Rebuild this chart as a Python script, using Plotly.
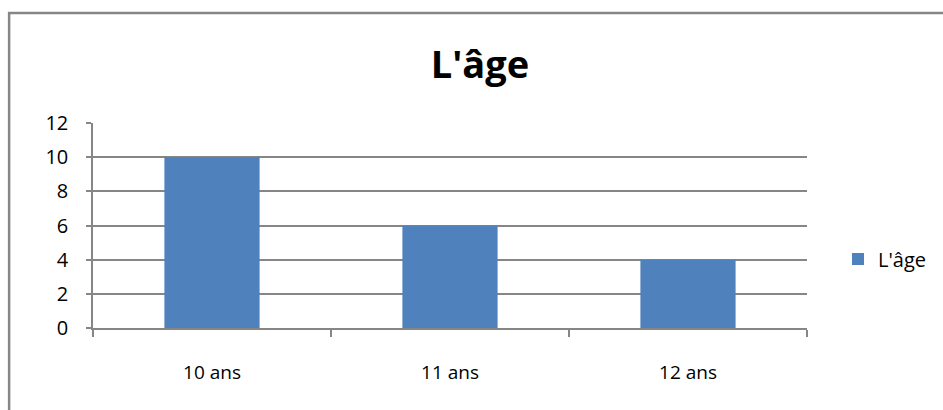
import plotly.graph_objects as go

categories = ["10 ans", "11 ans", "12 ans"]
values = [10, 6, 4]
series_name = "L'âge"
title_text = "L'âge"
y_ticks = [0, 2, 4, 6, 8, 10, 12]

W, H = 943, 410
L, R, T, B = 93, 135, 123, 82
pw, ph = W - L - R, H - T - B

def px_x(px):
    return (px - L) / pw

def px_y(py):
    return (H - B - py) / ph

fig = go.Figure()
fig.add_trace(go.Bar(
    x=categories, y=values, name=series_name,
    marker=dict(color="#4F81BD", line=dict(width=0)),
    showlegend=True,
))

fig.update_layout(
    width=W, height=H,
    margin=dict(l=L, r=R, t=T, b=B),
    paper_bgcolor="white", plot_bgcolor="white",
    bargap=0.6,
    title=dict(text="<b>" + title_text + "</b>", x=480 / W, xanchor="center",
               y=1 - 65 / H, yanchor="middle",
               font=dict(family="Open Sans", size=38, color="black")),
    font=dict(family="Open Sans", size=19, color="black"),
    legend=dict(x=px_x(838), y=px_y(259), xanchor="left", yanchor="middle",
                font=dict(size=20, family="Open Sans"), itemwidth=30,
                bgcolor="rgba(0,0,0,0)"),
    shapes=[dict(type="rect", xref="paper", yref="paper",
                 x0=px_x(9), x1=px_x(960), y0=px_y(13), y1=px_y(430),
                 line=dict(color="#868686", width=2.5), layer="below")],
)

fig.update_xaxes(
    showline=True, linecolor="#868686", linewidth=1.5,
    ticks="outside", tickson="boundaries", ticklen=7, tickcolor="#868686", tickwidth=1.5,
    showgrid=False, ticklabelstandoff=26,
    tickfont=dict(size=19, family="Open Sans"),
)
fig.update_yaxes(
    range=[0, 12], tickvals=y_ticks, showline=True, linecolor="#868686", linewidth=1.5,
    ticks="outside", ticklen=5, tickcolor="#868686", tickwidth=1.5,
    showgrid=True, gridcolor="#868686", gridwidth=1.5, zeroline=False,
    ticklabelstandoff=14,
    tickfont=dict(size=20, family="Open Sans"),
)

fig.write_html("out.html", config={"displayModeBar": False},
               post_script="document.body.style.margin='0';document.body.style.overflow='hidden';")
